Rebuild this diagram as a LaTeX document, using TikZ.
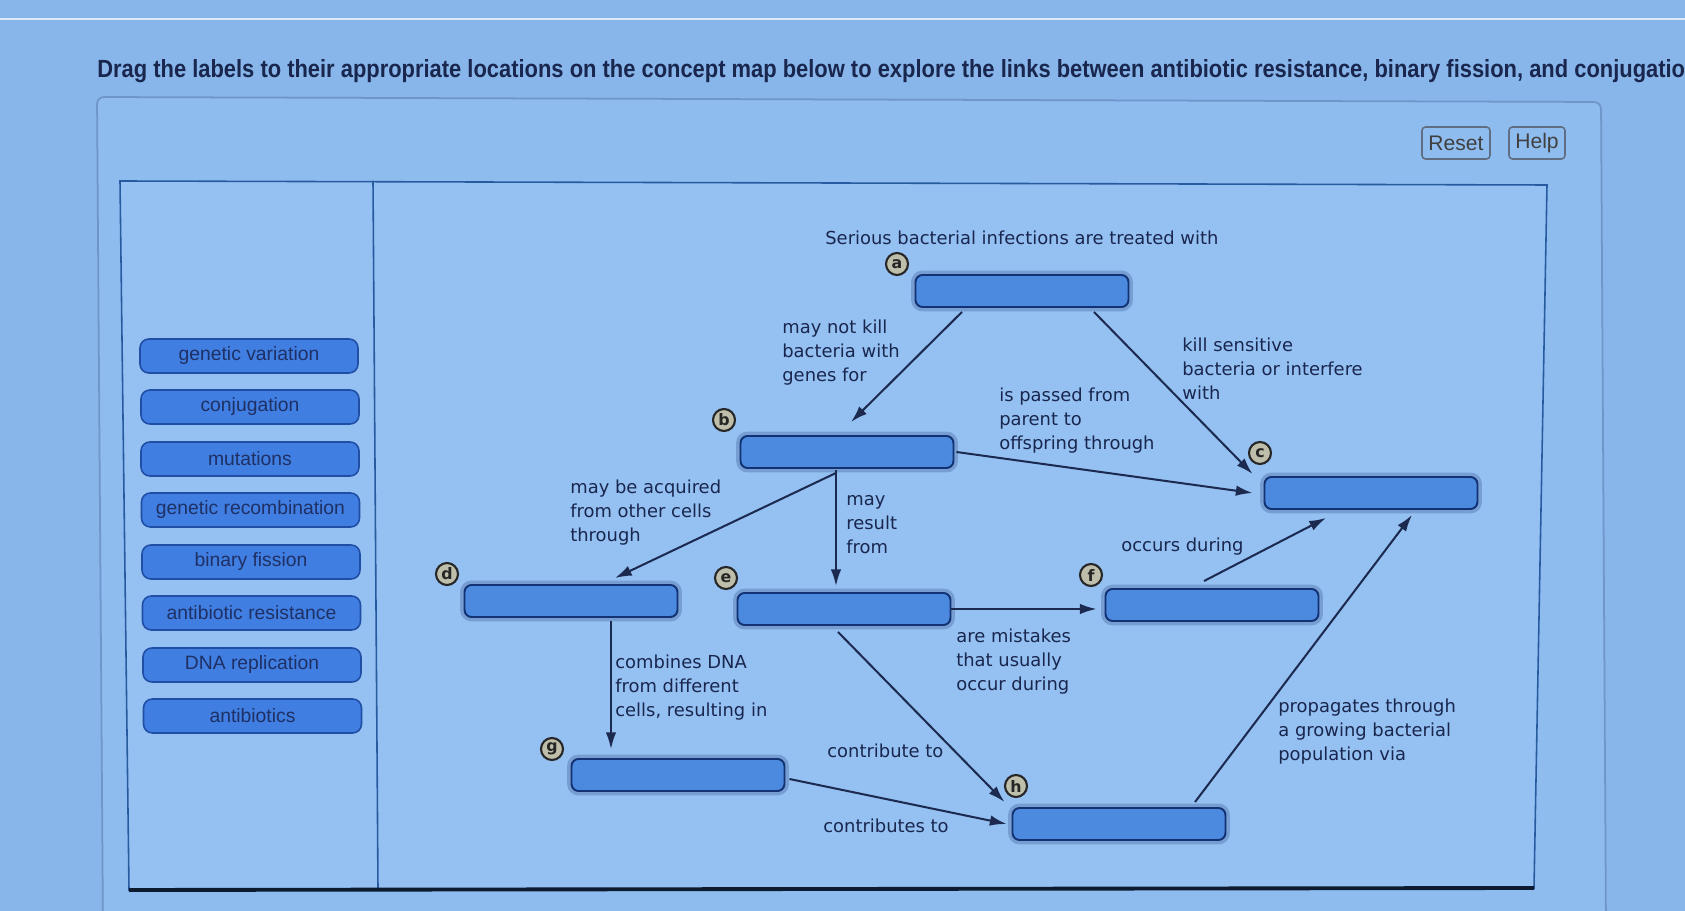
\documentclass[tikz,border=0pt]{standalone}
\usepackage{fontspec}
\setmainfont{DejaVu Sans}
\newfontfamily\arialf{Liberation Sans}
\usetikzlibrary{calc,arrows.meta}
\definecolor{bgc}{RGB}{136,182,234}
\definecolor{panelc}{RGB}{143,188,239}
\definecolor{panelline}{RGB}{110,150,200}
\definecolor{framec}{RGB}{148,192,242}
\definecolor{frameline}{RGB}{40,90,160}
\definecolor{boxfill}{RGB}{76,138,224}
\definecolor{boxline}{RGB}{18,50,115}
\definecolor{haloc}{RGB}{118,158,210}
\definecolor{txt}{RGB}{25,38,78}
\definecolor{linec}{RGB}{28,42,80}
\definecolor{labfill}{RGB}{64,126,226}
\definecolor{labline}{RGB}{32,78,165}
\definecolor{labtext}{RGB}{30,48,100}
\definecolor{circfill}{RGB}{190,190,170}
\definecolor{btnline}{RGB}{95,110,130}
\tikzset{
  slot/.style={draw=boxline, line width=1.1pt, fill=boxfill, rounded corners=4pt,
    minimum width=4.26cm, minimum height=0.64cm, inner sep=0pt,
    preaction={draw=haloc, line width=5pt}},
  conn/.style={draw=linec, line width=1.15pt, -{Latex[length=9.5pt,width=6pt]}},
  circ/.style={circle, draw=black!85, line width=1.2pt, fill=circfill, inner sep=0pt,
    minimum size=0.44cm, text=black!85, font=\bfseries\fontsize{9}{9}\selectfont},
  lab/.style={draw=labline, line width=0.9pt, fill=labfill, rounded corners=5pt,
    minimum width=4.36cm, minimum height=0.68cm, inner sep=0pt, text=labtext,
    font=\arialf\fontsize{11}{11}\selectfont},
  maptxt/.style={font=\fontsize{10.2}{13.6}\selectfont, text=txt, inner sep=0pt,
    align=left, anchor=north west},
  btn/.style={draw=btnline, line width=0.9pt, fill=panelc, rounded corners=2pt,
    inner sep=0pt, text=black!75, font=\arialf\fontsize{12}{12}\selectfont}
}
\begin{document}
\begin{tikzpicture}[x=0.02cm,y=-0.02cm]
\useasboundingbox (0,0) rectangle (1685,911);
\fill[bgc] (0,0) rectangle (1685,911);
\draw[white!70!bgc, line width=0.8pt] (0,19) -- (1685,19);
% outer panel
\draw[panelline, line width=1pt, fill=panelc, rounded corners=4pt]
  (97,97) -- (1601,102) -- (1606,930) -- (103,930) -- cycle;
% title
\node[anchor=base west, inner sep=0pt, text=txt] (title) at (97,78)
  {\resizebox{31.76cm}{0.36cm}{\arialf\bfseries Drag the labels to their appropriate locations on the concept map below to explore the links between antibiotic resistance, binary fission, and conjugatio}};
% buttons
\node[btn, minimum width=1.36cm, minimum height=0.64cm] (reset) at (1456,143) {Reset};
\node[btn, minimum width=1.12cm, minimum height=0.64cm] (help) at (1537,143) {Help};
% inner frame
\draw[frameline, line width=0.9pt, fill=framec] (120,181) -- (1547,185) -- (1534,888) -- (129,890) -- cycle;
\draw[frameline, line width=0.9pt] (373,181) -- (378,889);
\draw[black!70!frameline, line width=2.2pt] (129,890) -- (1534,888);
% label bank
\node[lab] (l1) at (249,356) {genetic variation};
\node[lab] (l2) at (250,407) {conjugation};
\node[lab] (l3) at (250,459) {mutations};
\node[lab] (l4) at (250.5,510) {genetic recombination};
\node[lab] (l5) at (251,562) {binary fission};
\node[lab] (l6) at (251.5,613) {antibiotic resistance};
\node[lab] (l7) at (252,665) {DNA replication};
\node[lab] (l8) at (252.5,716) {antibiotics};
% heading
\node[maptxt] (head) at (825,231) {Serious bacterial infections are treated with};
% slots
\node[slot] (a) at (1022,291) {};
\node[slot] (b) at (847,452) {};
\node[slot] (c) at (1371,493) {};
\node[slot] (d) at (571,601) {};
\node[slot] (e) at (844,609) {};
\node[slot] (f) at (1212,605) {};
\node[slot] (g) at (678,775) {};
\node[slot] (h) at (1119,824) {};
% circles
\node[circ] (ca) at (897,264) {a};
\node[circ] (cb) at (724,420) {b};
\node[circ] (cc) at (1260,453) {c};
\node[circ] (cd) at (447,574) {d};
\node[circ] (ce) at (726,578) {e};
\node[circ] (cf) at (1091,575) {f};
\node[circ] (cg) at (552,749) {g};
\node[circ] (ch) at (1016,786) {h};
% connectors
\draw[conn] ($(a.south)+(-60,4)$) -- ($(b.north)+(4,-13)$);
\draw[conn] ($(a.south)+(72,4)$) -- ($(c.north west)+(-11,-2)$);
\draw[conn] ($(b.east)+(2,0)$) -- ($(c.west)+(-11,0)$);
\draw[conn] ($(b.south)+(-11,4)$) -- ($(d.north)+(44,-6)$);
\draw[conn] ($(b.south)+(-11,1)$) -- ($(e.north)+(-8,-6)$);
\draw[conn] (e.east) -- ($(f.west)+(-8,4)$);
\draw[conn] ($(f.north)+(-8,-7)$) -- ($(c.south)+(-45,8)$);
\draw[conn] ($(d.south)+(40,3)$) -- ($(g.north)+(-67,-9)$);
\draw[conn] ($(e.south)+(-6,6)$) -- ($(h.north west)+(-7,-5)$);
\draw[conn] ($(g.east)+(4,4)$) -- ($(h.west)+(-5,0)$);
\draw[conn] ($(h.north)+(76,-5)$) -- ($(c.south)+(41,5)$);
% connector labels
\node[maptxt] (t1) at (782,320) {may not kill\\bacteria with\\genes for};
\node[maptxt] (t2) at (1182,338) {kill sensitive\\bacteria or interfere\\with};
\node[maptxt] (t3) at (999,388) {is passed from\\parent to\\offspring through};
\node[maptxt] (t4) at (570,480) {may be acquired\\from other cells\\through};
\node[maptxt] (t5) at (846,495) {may\\result\\from};
\node[maptxt] (t6) at (956,629) {are mistakes\\that usually\\occur during};
\node[maptxt] (t7) at (1121,538) {occurs during};
\node[maptxt] (t8) at (615,655) {combines DNA\\from different\\cells, resulting in};
\node[maptxt] (t9) at (827,744) {contribute to};
\node[maptxt] (t10) at (823,819) {contributes to};
\node[maptxt] (t11) at (1278,699) {propagates through\\a growing bacterial\\population via};
\end{tikzpicture}
\end{document}
